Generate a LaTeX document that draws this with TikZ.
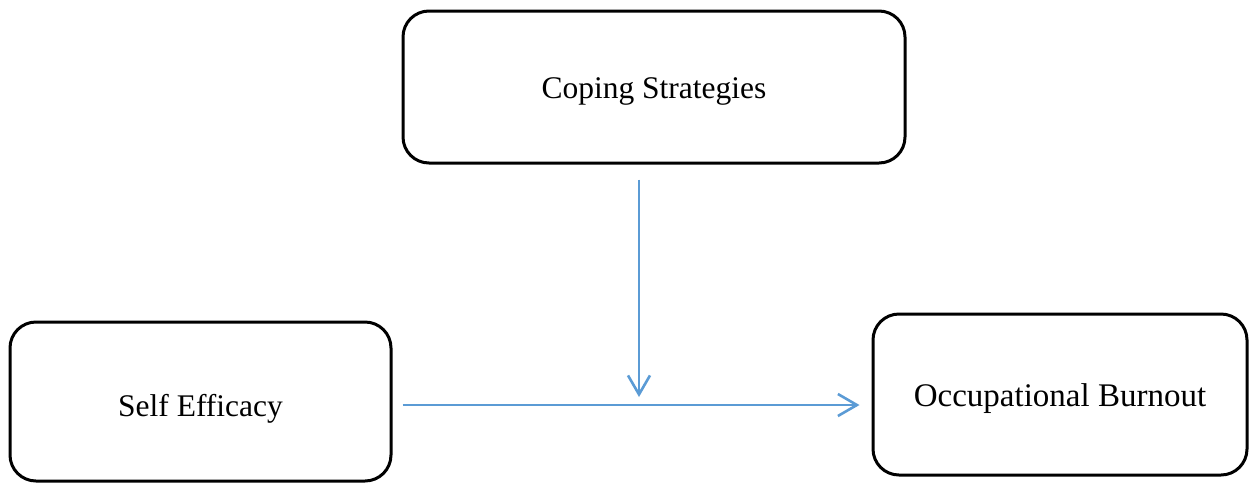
\documentclass[tikz,border=0pt]{standalone}
\usepackage{fontspec}
\setmainfont{Liberation Serif}
\usetikzlibrary{arrows.meta}
\definecolor{arrblue}{HTML}{5B9BD5}
\newcommand\lowertext[2]{\raisebox{#1}[0pt][0pt]{#2}}
\tikzset{
  box/.style={draw=black, line width=3pt, rounded corners=26pt, inner sep=0pt,
              font=\fontsize{31.5}{38}\selectfont},
  arr/.style={draw=arrblue, line width=2.6pt,
              -{Straight Barb[length=19pt,width=22pt,line width=2.6pt]}}
}
\begin{document}
\begin{tikzpicture}[x=1pt,y=-1pt]
\useasboundingbox (0,0) rectangle (1249,483);
\node[box, minimum width=502pt, minimum height=152pt] (cope) at (654,87) {\lowertext{-11pt}{Coping Strategies}};
\node[box, minimum width=381pt, minimum height=159pt] (self) at (200.5,401.5) {\lowertext{-14.5pt}{Self Efficacy}};
\node[box, minimum width=374pt, minimum height=161pt, font=\fontsize{33}{40}\selectfont] (burn) at (1060,394.5) {\lowertext{-11.5pt}{Occupational Burnout}};
\coordinate (m) at (639,405);
\draw[arr, shorten <=15pt, shorten >=8pt] (cope.south -| m) -- (m);
\draw[arr, shorten <=10pt, shorten >=12pt] (self.east |- m) -- (burn.west |- m);
\end{tikzpicture}
\end{document}
